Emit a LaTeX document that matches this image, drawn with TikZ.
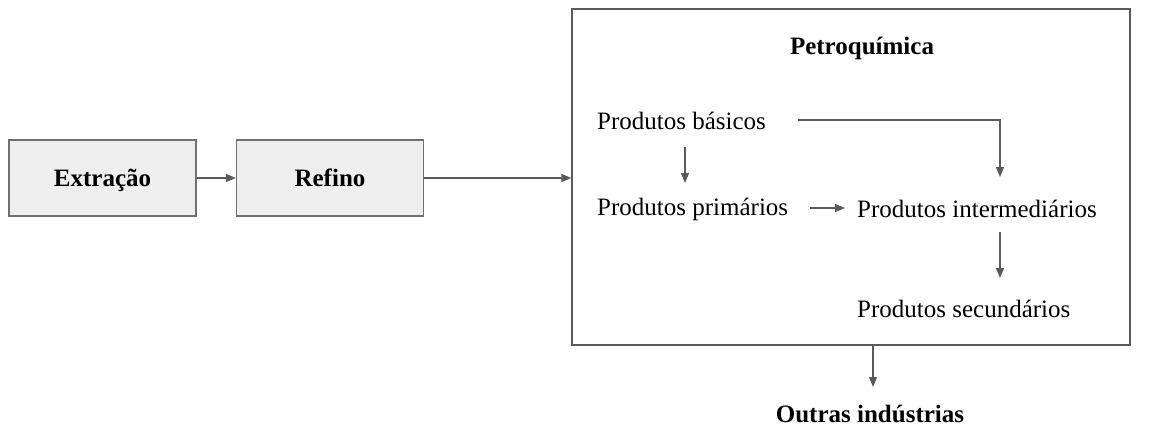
\documentclass[tikz,border=0pt]{standalone}
\usepackage{fontspec}
\setmainfont{Liberation Serif}
\usetikzlibrary{arrows.meta}
\definecolor{linegray}{HTML}{5A5A5A}
\definecolor{boxgray}{HTML}{EEEEEE}
\definecolor{bordergray}{HTML}{707070}
\tikzset{
  x=1pt,y=-1pt,
  stagebox/.style={draw=bordergray,line width=1.2pt,fill=boxgray,minimum width=187pt,minimum height=76pt,inner sep=0pt,text height=17pt,text depth=0pt,font=\fontsize{25}{30}\selectfont\bfseries},
  label/.style={inner sep=0pt,anchor=west,font=\fontsize{25}{30}\selectfont},
  conn/.style={draw=linegray,line width=1.3pt,-{Triangle[length=10pt,width=8pt]}},
}
\begin{document}
\begin{tikzpicture}
\useasboundingbox (0,0) rectangle (1175,431);
\node[stagebox] (ext) at (102.5,178) {Extração};
\node[stagebox] (ref) at (330,178) {Refino};
\node[draw=linegray,line width=1.2pt,minimum width=558pt,minimum height=336pt,inner sep=0pt] (petro) at (851,177) {};
\node[inner sep=0pt,font=\fontsize{25}{30}\selectfont\bfseries] (title) at (862,48) {Petroquímica};
\node[label] (bas) at (597,121) {Produtos básicos};
\node[label] (pri) at (597,209) {Produtos primários};
\node[label] (int) at (857,209) {Produtos intermediários};
\node[label] (sec) at (857,309) {Produtos secundários};
\node[inner sep=0pt,font=\fontsize{25}{30}\selectfont\bfseries] (out) at (870,414) {Outras indústrias};
\coordinate (turn) at (1000,120);
\coordinate (intin) at (1000,177);
\coordinate (basout) at (685,147);
\coordinate (priin) at (685,183);
\coordinate (intout) at (1000,232);
\coordinate (secin) at (1000,278);
\coordinate (outin) at (873,387);
\draw[conn] (ext.east) -- (ref.west);
\draw[conn] (ref.east) -- (ref.east -| petro.west);
\draw[conn] (798,120) -- (turn) -- (intin);
\draw[conn] (basout) -- (priin);
\draw[conn] (810,208) -- (845,208);
\draw[conn] (intout) -- (secin);
\draw[conn] (petro.south -| outin) -- (outin);
\end{tikzpicture}
\end{document}
